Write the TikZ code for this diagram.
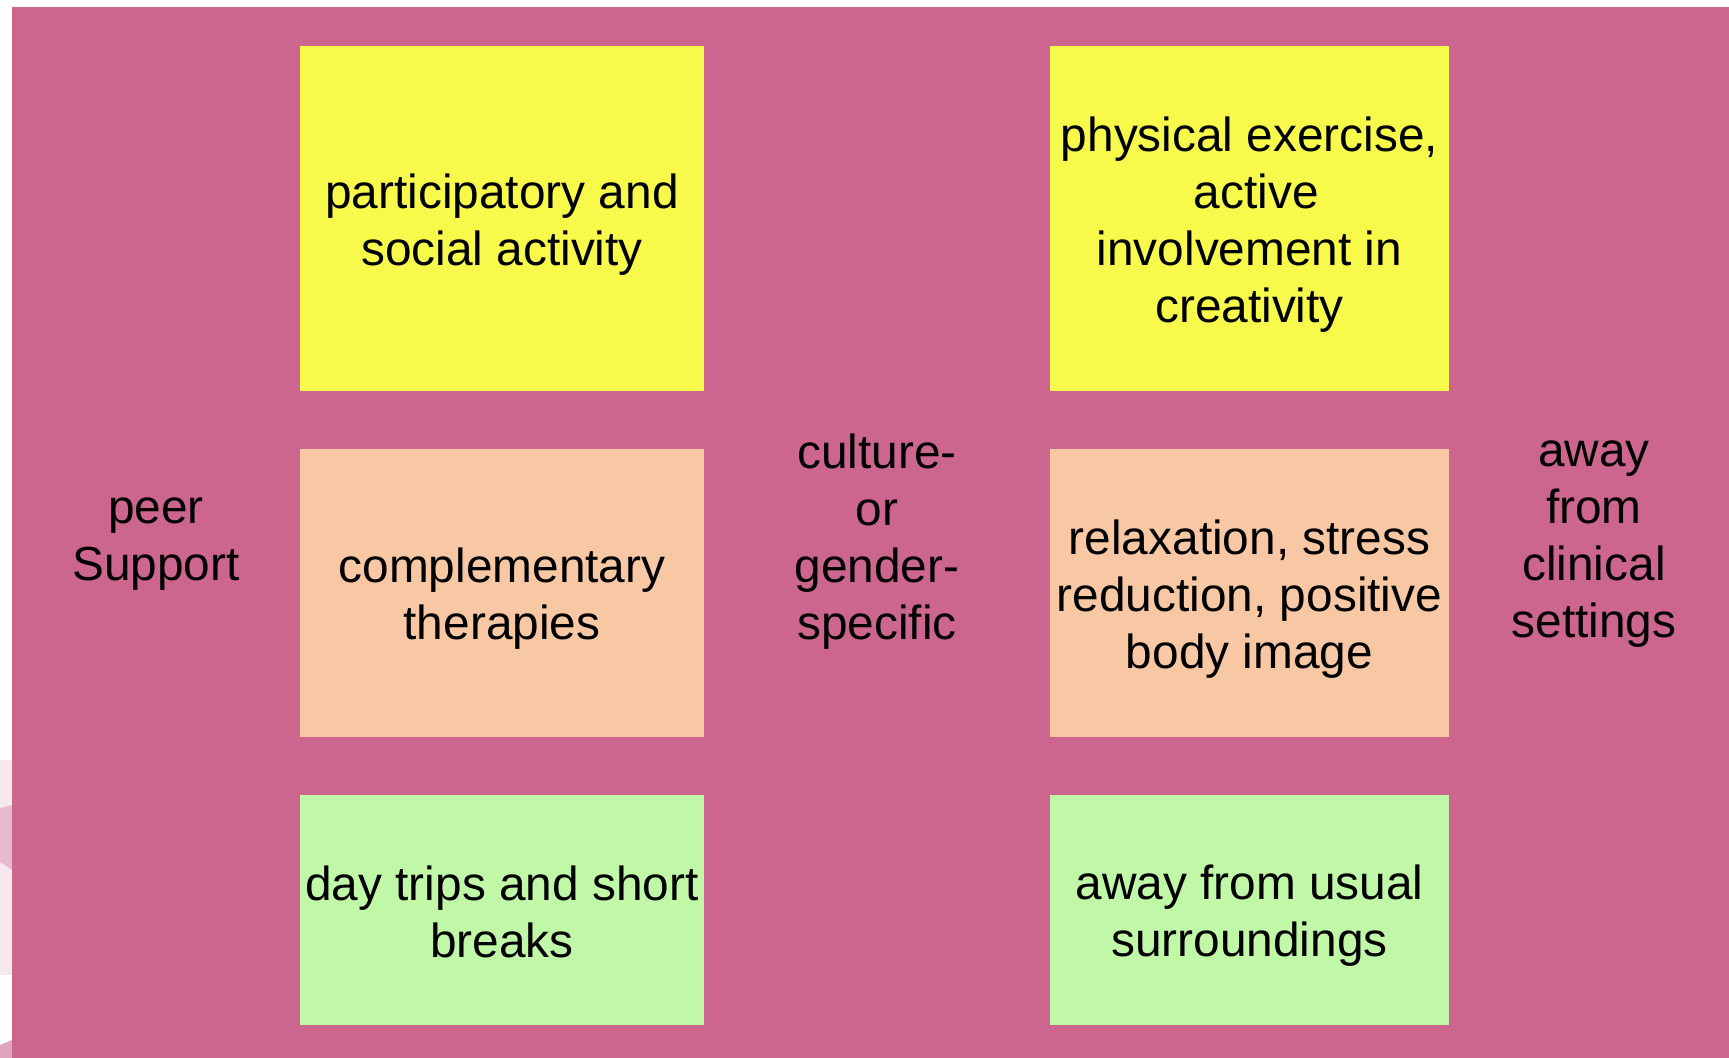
\documentclass[tikz,border=0pt]{standalone}
\usepackage{fontspec}
\setmainfont{Liberation Sans}
\definecolor{bgpink}{RGB}{204,102,143}
\definecolor{padyellow}{RGB}{247,250,75}
\definecolor{padpeach}{RGB}{248,199,164}
\definecolor{padgreen}{RGB}{192,248,168}

\begin{document}
\begin{tikzpicture}[
	x=0.1mm, y=-0.1mm,
	txt/.style={align=center, inner sep=0pt, font=\fontsize{13.6}{16.2}\selectfont},
	pad/.style={inner sep=0pt, minimum width=40.4mm},
	padr/.style={inner sep=0pt, minimum width=39.9mm}]
	\useasboundingbox (0,0) rectangle (1729,1058);
	\fill[bgpink] (12,7) rectangle (1729,1058);
	% bits of the slide behind, on the left edge
	\fill[bgpink!15] (0,760) rectangle (12,975);
	\fill[bgpink!45] (0,808) -- (12,805) -- (12,870) -- (0,862) -- cycle;
	\fill[bgpink!60] (0,1045) -- (12,1040) -- (12,1058) -- (0,1058) -- cycle;
	% left column
	\node[pad, fill=padyellow, minimum height=34.5mm] (social) at (502,218.5) {};
	\node[pad, fill=padpeach, minimum height=28.8mm] (compl) at (502,593) {};
	\node[pad, fill=padgreen, minimum height=23mm] (trips) at (502,910) {};
	\node[txt] (socialtxt) at ([yshift=-0.6mm]social.center) {participatory and\\social activity};
	\node[txt] (compltxt) at ([yshift=-0.6mm]compl.center) {complementary\\therapies};
	\node[txt] (tripstxt) at ([yshift=-0.2mm]trips.center) {day trips and short\\breaks};
	% right column
	\node[padr, fill=padyellow, minimum height=34.5mm] (exercise) at (1249.5,218.5) {};
	\node[padr, fill=padpeach, minimum height=28.8mm] (relax) at (1249.5,593) {};
	\node[padr, fill=padgreen, minimum height=23mm] (usual) at (1249.5,910) {};
	\node[txt] (exercisetxt) at ([yshift=-0.6mm]exercise.center) {physical exercise,\\\hspace*{0.28em}active\\involvement in\\creativity};
	\node[txt] (relaxtxt) at ([yshift=-0.6mm]relax.center) {relaxation, stress\\reduction, positive\\body image};
	\node[txt] (usualtxt) at ([yshift=-0.6mm]usual.center) {away from usual\\surroundings};
	% side labels
	\node[txt] (peer) at (156,544) {peer\\Support};
	\node[txt] (culture) at (877,542) {culture-\\or\\gender-\\specific};
	\node[txt] (clinic) at (1594,544) {away\\from\\clinical\\settings};
\end{tikzpicture}
\end{document}
